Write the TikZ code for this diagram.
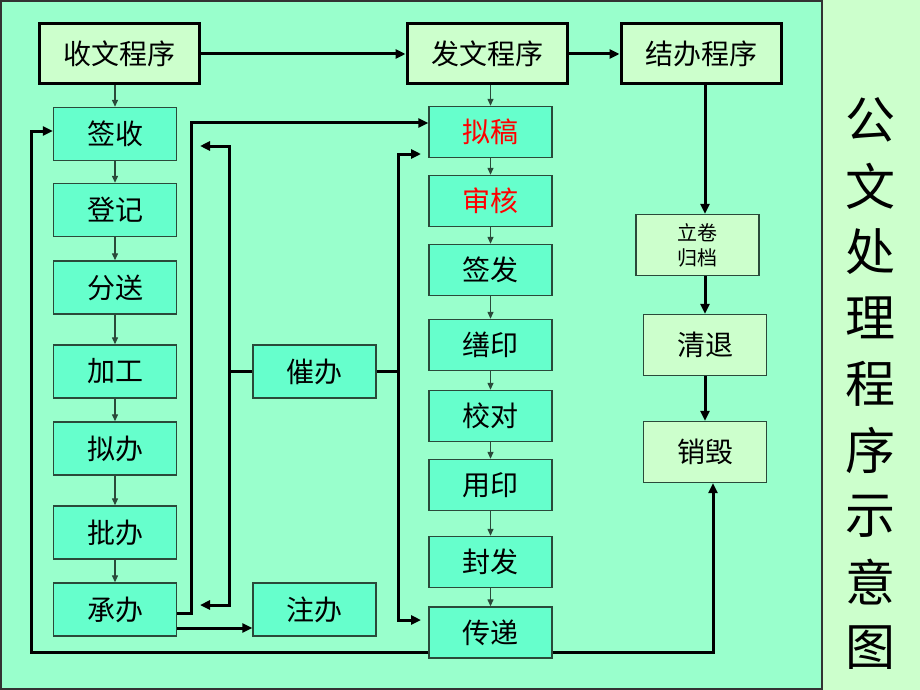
\documentclass[tikz,border=0pt]{standalone}
\usepackage{fontspec}
\setmainfont{Noto Sans CJK SC}
\usetikzlibrary{arrows.meta}
\definecolor{panelgreen}{HTML}{99FFCC}
\definecolor{boxgreen}{HTML}{66FFCC}
\definecolor{headgreen}{HTML}{CCFFCC}
\definecolor{edgegray}{HTML}{2A4A3A}

\begin{document}
\begin{tikzpicture}[x=1pt,y=-1pt,
  head/.style={draw=black,line width=3pt,fill=headgreen,minimum width=160pt,minimum height=60pt,font=\fontsize{28}{30}\selectfont},
  stepbox/.style={draw=edgegray,line width=1.4pt,fill=boxgreen,minimum width=123pt,minimum height=53pt,font=\fontsize{28}{30}\selectfont},
  endbox/.style={draw=edgegray,line width=1.4pt,fill=headgreen,minimum width=123pt,minimum height=61pt,font=\fontsize{28}{30}\selectfont},
  link/.style={draw=edgegray,line width=1.3pt,-{Triangle[length=7pt,width=6pt]}},
  fat/.style={line width=3pt,-{Triangle[length=10pt,width=9pt]}}]
  \useasboundingbox (0,0) rectangle (920,690);
  \fill[panelgreen] (0,0) rectangle (822,690);
  \fill[headgreen] (822,0) rectangle (920,690);
  \draw[line width=2pt,black!80] (1,1) rectangle (822,689);

  % three main stages
  \node[head] (sw) at (119,54) {收文程序};
  \node[head] (fw) at (487,54) {发文程序};
  \node[head] (jb) at (701,54) {结办程序};

  \foreach \n/\y/\t in {qs/134/签收,dj/210/登记,fs/287.5/分送,jg/371.5/加工,nb/448.5/拟办,pb/532.5/批办,cbz/609.5/承办}
    \node[stepbox] (\n) at (115,\y) {\t};
  \foreach \n/\y/\t/\c in {ng/132/拟稿/red,sh/201/审核/red,qf/270/签发/black,sy/345/缮印/black,jd/416/校对/black,yy/485/用印/black,ff/562/封发/black,cd/632.5/传递/black}
    \node[stepbox,minimum height=51pt,text=\c] (\n) at (490.5,\y) {\t};
  \node[stepbox] (cb) at (314.5,371.5) {催办};
  \node[stepbox] (zb) at (314.5,609.5) {注办};

  \node[endbox,font=\fontsize{20}{25}\selectfont,align=center] (lj) at (697.5,245) {立卷\\归档};
  \node[endbox] (qt) at (705,345) {清退};
  \node[endbox] (xh) at (705,452) {销毁};

  \foreach \c [count=\i] in {公,文,处,理,程,序,示,意,图}
    \node[font=\fontsize{50}{50}\selectfont] (t\i) at (870,54+66*\i) {\c};

  % thin steps
  \draw[link] (qs.north |- sw.south) -- (qs.north);
  \draw[link] (ng.north |- fw.south) -- (ng.north);
  \foreach \a/\b in {qs/dj,dj/fs,fs/jg,jg/nb,nb/pb,pb/cbz,ng/sh,sh/qf,qf/sy,sy/jd,jd/yy,yy/ff,ff/cd}
    \draw[link] (\a) -- (\b);

  % thick connectors
  \coordinate (cbl) at (229,371.5);
  \coordinate (cbr) at (398,371.5);
  \coordinate (up1) at (200,146);
  \coordinate (dn1) at (200,605);
  \coordinate (up2) at (421,154);
  \coordinate (dn2) at (421,620);
  \coordinate (lb) at (31,652);
  \draw[fat] (sw) -- (fw);
  \draw[fat] (fw) -- (jb);
  \draw[fat] ([xshift=4pt]jb.south) -- ([xshift=4pt]jb.south |- lj.north);
  \draw[fat] (qt.north |- lj.south) -- (qt.north);
  \draw[fat] (qt) -- (xh);
  \draw[fat] ([yshift=-3.5pt]cbz.east) -- ++(14,0) |- ([yshift=9pt]ng.west);
  \draw[fat] ([yshift=-18.5pt]cbz.east) -- ([yshift=-18.5pt]cbz.east -| zb.west);
  \draw[fat] (cb.west) -- (cbl) |- (up1);
  \draw[fat] (cbl) |- (dn1);
  \draw[fat] (cb.east) -- (cbr) |- (up2);
  \draw[fat] (cbr) |- (dn2);
  \draw[fat] ([yshift=-19.5pt]cd.west) -- (lb) |- ([yshift=3pt]qs.west);
  \draw[fat] ([yshift=-19.5pt]cd.east) -| ([xshift=8pt]xh.south);
\end{tikzpicture}
\end{document}
